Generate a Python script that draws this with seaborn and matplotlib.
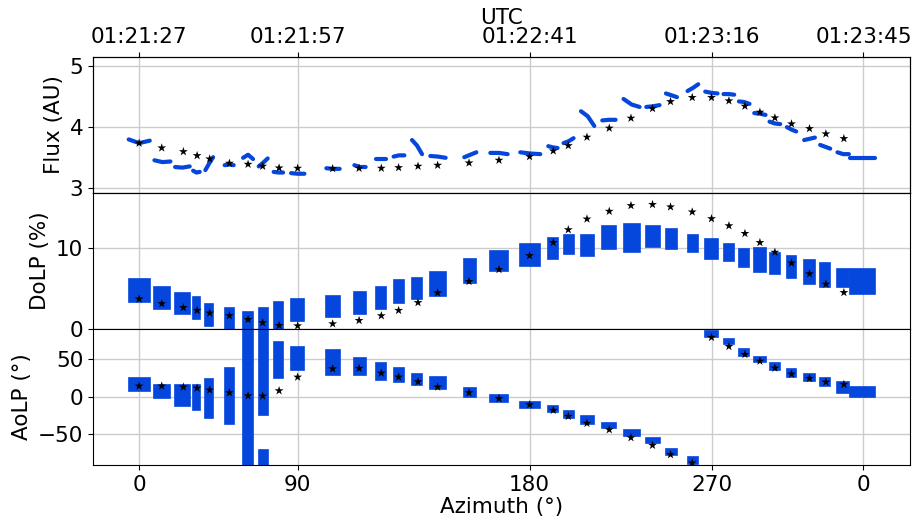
import numpy as np
import pandas as pd
import matplotlib
matplotlib.use('Agg')
import matplotlib.pyplot as plt
import seaborn as sns

# x axis: seconds after 01:21:27 UTC
tick_t = [0, 30.15, 74.26, 108.86, 137.76]
az_labels = ['0', '90', '180', '270', '0']
utc_labels = ['01:21:27', '01:21:57', '01:22:41', '01:23:16', '01:23:45']

# acquisition windows (s)
seg_t0 = [-1.98, 2.91, 6.84, 10.27, 12.60, 16.27, 19.77, 22.74, 25.59, 28.90,
          35.61, 40.93, 45.06, 48.40, 51.90, 55.38, 61.84, 66.79, 72.49, 77.81,
          80.72, 84.03, 88.08, 92.13, 96.45, 100.19, 104.30, 107.66, 111.14, 114.07,
          116.98, 119.89, 123.19, 126.48, 129.52, 132.81, 135.23]
seg_t1 = [2.02, 5.95, 9.62, 11.52, 14.07, 17.98, 21.67, 24.45, 27.38, 31.43,
          38.14, 43.08, 46.88, 50.44, 53.80, 58.29, 64.13, 70.08, 76.29, 79.58,
          82.62, 86.56, 90.61, 95.17, 98.97, 102.28, 106.33, 110.00, 113.17, 116.08,
          119.13, 121.92, 124.96, 128.52, 131.43, 134.98, 140.04]

# measured flux (start, middle, end of each window)
flux_a = [3.80, 3.46, 3.35, 3.29, 3.30, 3.38, 3.50, 3.36, 3.27, 3.25,
          3.33, 3.38, 3.48, 3.52, 3.79, 3.53, 3.51, 3.58, 3.59, 3.69,
          3.74, 4.26, 4.11, 4.46, 4.33, 4.55, 4.59, 4.58, 4.54, 4.42,
          4.23, 4.09, 4.00, 3.79, 3.71, 3.59, 3.49]
flux_m = [3.74, 3.43, 3.34, 3.26, 3.41, 3.39, 3.55, 3.42, 3.26, 3.24,
          3.32, 3.35, 3.48, 3.54, 3.70, 3.52, 3.55, 3.58, 3.57, 3.67,
          3.77, 4.18, 4.12, 4.37, 4.34, 4.52, 4.64, 4.56, 4.54, 4.41,
          4.22, 4.06, 3.96, 3.81, 3.68, 3.56, 3.49]
flux_b = [3.78, 3.44, 3.36, 3.27, 3.51, 3.38, 3.48, 3.49, 3.26, 3.24,
          3.32, 3.35, 3.48, 3.54, 3.56, 3.50, 3.59, 3.56, 3.56, 3.66,
          3.82, 4.02, 4.12, 4.33, 4.36, 4.49, 4.70, 4.55, 4.53, 4.38,
          4.20, 4.05, 3.93, 3.83, 3.65, 3.56, 3.49]

# measured DoLP spread (%)
dolp_lo = [3.3, 2.5, 1.8, 1.2, 0.4, 0.0, 0.0, 0.0, 0.0, 1.0,
           1.4, 1.8, 2.5, 3.2, 3.7, 4.1, 5.7, 7.1, 7.7, 8.6,
           9.2, 9.0, 9.8, 9.4, 10.1, 9.8, 9.4, 8.6, 8.3, 7.6,
           7.0, 6.8, 6.3, 5.5, 5.2, 5.1, 4.3]
dolp_hi = [6.1, 5.1, 4.4, 3.9, 3.0, 2.6, 2.1, 2.6, 3.3, 3.7,
           4.1, 4.5, 5.2, 6.0, 6.2, 7.0, 8.6, 9.6, 10.5, 11.2,
           11.6, 11.6, 12.6, 12.9, 12.7, 12.3, 11.6, 11.0, 10.5, 9.8,
           9.9, 9.3, 9.0, 8.5, 8.1, 7.4, 7.4]

# measured AoLP spread (deg)
aolp_lo = [7.6, -1.3, -12.3, -17.6, -27.9, -36.6, -90.0, -24.3, 24.4, 35.4,
           28.8, 28.8, 22.1, 19.9, 15.5, 10.2, 0.0, -7.4, -15.4, -20.7,
           -27.9, -36.6, -41.9, -52.1, -61.8, -77.3, -89.7, 79.6, 69.5, 54.4,
           45.6, 35.4, 26.5, 20.8, 14.6, 4.5, 0.0]
aolp_hi = [24.4, 15.5, 15.5, 15.5, 23.5, 37.7, 90.0, 90.0, 72.1, 66.3,
           61.9, 51.7, 44.3, 37.7, 29.7, 25.7, 11.1, 2.3, -7.4, -12.3,
           -19.0, -25.6, -34.9, -44.6, -55.2, -69.4, -80.3, 87.1, 76.1, 63.3,
           53.1, 44.3, 36.7, 29.7, 24.4, 19.1, 13.3]
# wrapped part of the noisy window
wrap_t0 = [22.74]
wrap_t1 = [24.45]
wrap_lo = [-90.0]
wrap_hi = [-70.7]

# model values (stars)
star_t = [0, 4.30, 8.42, 11.03, 13.42, 17.17, 20.72, 23.50, 26.62, 30.15,
          36.81, 41.83, 46.06, 49.35, 53.04, 56.77, 62.74, 68.44, 74.26, 78.76,
          81.62, 85.17, 89.41, 93.54, 97.64, 101.06, 105.19, 108.86, 112.17, 115.21,
          118.06, 120.91, 124.07, 127.49, 130.61, 134.03]
star_flux = [3.739, 3.662, 3.601, 3.536, 3.482, 3.412, 3.395, 3.363, 3.335, 3.330,
             3.324, 3.330, 3.330, 3.340, 3.363, 3.379, 3.417, 3.461, 3.520, 3.613,
             3.699, 3.837, 3.984, 4.147, 4.304, 4.418, 4.484, 4.484, 4.430, 4.343,
             4.245, 4.152, 4.054, 3.977, 3.891, 3.814]
star_dolp = [3.67, 3.10, 2.61, 2.27, 1.94, 1.61, 1.15, 0.74, 0.41, 0.37,
             0.62, 1.03, 1.61, 2.27, 3.23, 4.42, 5.83, 7.30, 9.01, 10.62,
             12.20, 13.52, 14.47, 15.17, 15.30, 15.01, 14.39, 13.56, 12.69, 11.74,
             10.62, 9.43, 8.10, 6.77, 5.50, 4.47]
star_aolp = [14.2, 14.2, 12.9, 11.5, 8.9, 5.3, 1.3, 0.9, 8.0, 26.1,
             37.1, 37.7, 31.4, 26.1, 19.9, 12.9, 5.3, -2.4, -10.6, -18.0,
             -26.0, -35.3, -43.8, -54.4, -64.5, -76.9, -87.9, 78.8, 66.8, 56.2,
             47.3, 38.1, 30.1, 24.4, 19.5, 16.4]

blue = '#0546dd'
fs = 15.5

plt.rcParams['font.family'] = ['DejaVu Sans']
plt.rcParams['font.size'] = fs

fig, axes = plt.subplots(3, 1, sharex=True, figsize=(9.14, 5.2), dpi=100)
fig.subplots_adjust(left=0.1017, right=0.9956, bottom=0.106, top=0.891, hspace=0)

# flux segments as short lines
rows = []
for i in range(len(seg_t0)):
    tm = (seg_t0[i] + seg_t1[i]) / 2
    rows += [(i, seg_t0[i], flux_a[i]), (i, tm, flux_m[i]), (i, seg_t1[i], flux_b[i])]
flux_df = pd.DataFrame(rows, columns=['seg', 't', 'flux'])
sns.lineplot(data=flux_df, x='t', y='flux', units='seg', estimator=None,
             color=blue, lw=3, ax=axes[0], solid_capstyle='round')

# DoLP and AoLP noisy windows as filled bands
w = np.array(seg_t1) - np.array(seg_t0)
axes[1].bar(seg_t0, np.array(dolp_hi) - np.array(dolp_lo), bottom=dolp_lo, width=w,
            align='edge', color=blue, edgecolor=blue, lw=1.2, zorder=2)
axes[2].bar(seg_t0, np.array(aolp_hi) - np.array(aolp_lo), bottom=aolp_lo, width=w,
            align='edge', color=blue, edgecolor=blue, lw=1.2, zorder=2)
axes[2].bar(wrap_t0, np.array(wrap_hi) - np.array(wrap_lo), bottom=wrap_lo,
            width=np.array(wrap_t1) - np.array(wrap_t0),
            align='edge', color=blue, edgecolor=blue, lw=1.2, zorder=2)

stars = pd.DataFrame({'t': star_t, 'flux': star_flux, 'dolp': star_dolp, 'aolp': star_aolp})
for ax, col in zip(axes, ['flux', 'dolp', 'aolp']):
    sns.scatterplot(data=stars, x='t', y=col, marker='*', s=45, color='black',
                    edgecolor='none', ax=ax, zorder=3)
    ax.grid(True, color='#cccccc', lw=1)
    ax.set_axisbelow(True)
    ax.tick_params(labelsize=fs)

axes[0].set_ylim(2.93, 5.15)
axes[0].set_yticks([3, 4, 5])
axes[0].set_ylabel('Flux (AU)', fontsize=fs)
axes[1].set_ylim(0, 16.75)
axes[1].set_yticks([0, 10])
axes[1].set_ylabel('DoLP (%)', fontsize=fs)
axes[2].set_ylim(-90.5, 90.2)
axes[2].set_yticks([-50, 0, 50])
axes[2].set_ylabel('AoLP (°)', fontsize=fs)

axes[2].set_xlim(-8.78, 146.6)
axes[2].set_xticks(tick_t)
axes[2].set_xticklabels(az_labels)
axes[2].set_xlabel('Azimuth (°)', fontsize=fs, labelpad=2)
for ax in axes[:2]:
    ax.set_xlabel('')

top = axes[0].twiny()
top.set_xlim(axes[0].get_xlim())
top.set_xticks(tick_t)
top.set_xticklabels(utc_labels, fontsize=fs)
top.set_xlabel('UTC', fontsize=fs, labelpad=2)

fig.savefig('out.png', dpi=100)
